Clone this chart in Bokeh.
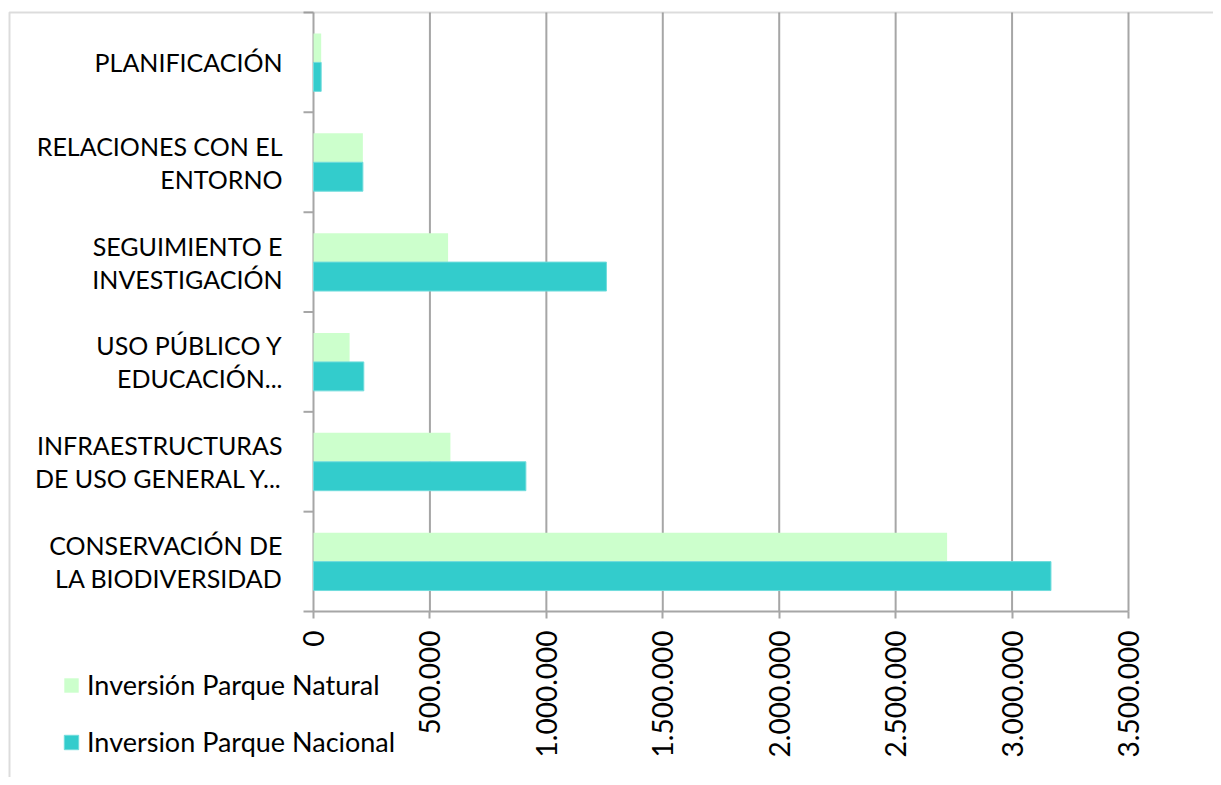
import math
from bokeh.plotting import figure
from bokeh.models import (FixedTicker, CustomJSTickFormatter, Legend, LegendItem,
                          BoxAnnotation, Range1d)
from bokeh.embed import file_html
from bokeh.resources import INLINE

# Categories from bottom to top (as in the chart)
categories = [
    "CONSERVACIÓN DE\nLA BIODIVERSIDAD",
    "INFRAESTRUCTURAS\nDE USO GENERAL Y...",
    "USO PÚBLICO Y\nEDUCACIÓN...",
    "SEGUIMIENTO E\nINVESTIGACIÓN",
    "RELACIONES CON EL\nENTORNO",
    "PLANIFICACIÓN",
]
natural = [2721000, 588000, 155000, 578000, 212000, 33000]
nacional = [3167000, 912000, 216000, 1258000, 212000, 33000]
series_names = ["Inversión Parque Natural", "Inversion Parque Nacional"]
x_ticks = [0, 500000, 1000000, 1500000, 2000000, 2500000, 3000000, 3500000]

FONT = "Lato"
GRID = "#a6a6a6"

# ---- layout (pixels) -------------------------------------------------------
W, H = 1213, 777
PX_LEFT, PX_RIGHT = 313, 1128      # pixel of x = 0 and x = max tick
PX_TOP, PX_BOTTOM = 12, 611        # pixel of top and bottom of category area
n = len(categories)
xmax = x_ticks[-1]
xs = xmax / (PX_RIGHT - PX_LEFT)   # data units per pixel (x)
ys = n / (PX_BOTTOM - PX_TOP)      # data units per pixel (y)
x_start = -PX_LEFT * xs
x_end = (W - PX_LEFT) * xs
y_end = n + PX_TOP * ys
y_start = -(H - PX_BOTTOM) * ys

centers = [i + 0.5 for i in range(n)]
bounds_y = list(range(n + 1))
bar_h = 0.29
y_nat = [c + bar_h / 2 for c in centers]
y_nac = [c - bar_h / 2 for c in centers]

p = figure(width=W, height=H,
           x_range=Range1d(x_start, x_end), y_range=Range1d(y_start, y_end),
           output_backend="svg", toolbar_location=None,
           min_border=0)
p.outline_line_color = None
p.background_fill_color = "white"
p.border_fill_color = "white"

# vertical grid lines, limited to the plotting area
p.segment(x0=x_ticks, y0=[0] * len(x_ticks), x1=x_ticks, y1=[n] * len(x_ticks),
          line_color=GRID, line_width=2)
# category boundary tick marks on the left of the value axis
p.segment(x0=[-10 * xs] * len(bounds_y), y0=bounds_y,
          x1=[0] * len(bounds_y), y1=bounds_y,
          line_color=GRID, line_width=2)

r1 = p.hbar(y=y_nat, left=0, right=natural, height=bar_h,
            fill_color="#CCFFCC", line_color=None)
r2 = p.hbar(y=y_nac, left=0, right=nacional, height=bar_h,
            fill_color="#33CCCC", line_color="#70DCDC", line_width=1)

# x axis
xa = p.xaxis[0]
xa.fixed_location = 0
xa.bounds = (0, xmax)
xa.ticker = FixedTicker(ticks=x_ticks)
xa.formatter = CustomJSTickFormatter(code="""
    return Math.round(tick).toString().replace(/\\B(?=(\\d{3})+(?!\\d))/g, ".");
""")
xa.major_label_orientation = math.pi / 2
xa.major_tick_out = 7
xa.major_tick_in = 0
xa.minor_tick_line_color = None
xa.major_tick_line_color = GRID
xa.major_tick_line_width = 2
xa.axis_line_color = GRID
xa.axis_line_width = 2
xa.major_label_standoff = 12
xa.major_label_text_font = FONT
xa.major_label_text_font_size = "28px"
xa.major_label_text_color = "#000000"

# y axis: labels at category centres only
ya = p.yaxis[0]
ya.fixed_location = 0
ya.bounds = (0, n)
ya.ticker = FixedTicker(ticks=centers)
ya.major_label_overrides = {c: lab for c, lab in zip(centers, categories)}
ya.major_tick_out = 0
ya.major_tick_in = 0
ya.major_tick_line_color = None
ya.minor_tick_line_color = None
ya.axis_line_color = None
ya.major_label_standoff = 31
ya.major_label_text_font = FONT
ya.major_label_text_font_size = "25px"
ya.major_label_text_color = "#000000"
ya.major_label_text_line_height = 1.1

p.xgrid.grid_line_color = None
p.ygrid.grid_line_color = None

legend = Legend(items=[LegendItem(label=series_names[0], renderers=[r1]),
                       LegendItem(label=series_names[1], renderers=[r2])],
                location=(62, H - 758), orientation="vertical",
                border_line_color=None, background_fill_alpha=0,
                padding=0, margin=0, spacing=24,
                glyph_width=18, glyph_height=18, label_height=30,
                label_standoff=7, label_text_font=FONT,
                label_text_font_size="27px", label_text_color="#000000")
p.add_layout(legend, "center")

# outer chart border (left and top edges visible)
border = BoxAnnotation(left=x_start + 9 * xs, right=x_end + 50 * xs,
                       top=n, bottom=y_start - 50 * ys,
                       fill_color=None, fill_alpha=0,
                       line_color="#8c8c8c", line_width=2, level="overlay")
p.add_layout(border)

open("out.html", "w").write(file_html(p, INLINE))
